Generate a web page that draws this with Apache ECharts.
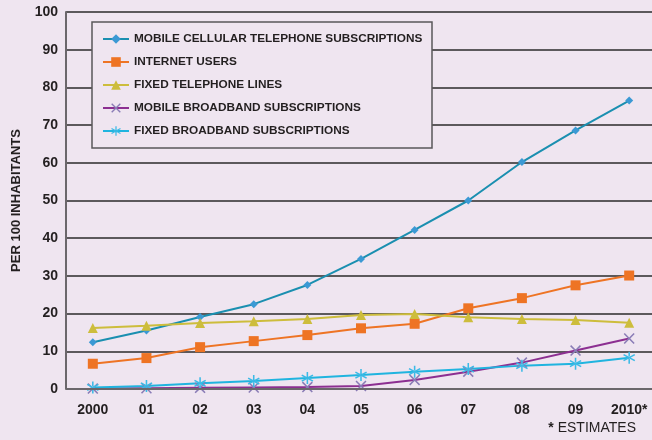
<!DOCTYPE html>
<html><head><meta charset="utf-8">
<script src="https://cdn.jsdelivr.net/npm/echarts@6/dist/echarts.min.js"></script>
<style>html,body{margin:0;padding:0;background:#EFE5F0}#c{width:652px;height:440px}</style>
</head><body><div id="c"></div>
<script>
const categories = ['2000','01','02','03','04','05','06','07','08','09','2010*'];
const yTicks = [0,10,20,30,40,50,60,70,80,90,100];
const mobileCellular = [12.4,15.5,19.1,22.5,27.6,34.5,42.2,50.0,60.2,68.6,76.5];
const internetUsers = [6.7,8.2,11.1,12.7,14.3,16.1,17.3,21.4,24.1,27.5,30.1];
const fixedTelephone = [16.2,16.8,17.5,18.0,18.6,19.6,19.9,19.0,18.6,18.3,17.6];
const mobileBroadband = [0.1,0.2,0.3,0.4,0.5,0.8,2.4,4.6,7.0,10.2,13.4];
const fixedBroadband = [0.4,0.8,1.5,2.1,2.9,3.7,4.6,5.3,6.2,6.7,8.3];
const seriesNames = ['MOBILE CELLULAR TELEPHONE SUBSCRIPTIONS','INTERNET USERS','FIXED TELEPHONE LINES','MOBILE BROADBAND SUBSCRIPTIONS','FIXED BROADBAND SUBSCRIPTIONS'];

const BG = '#EFE5F0';
const FONT = '"Liberation Sans", Arial, sans-serif';
const xPath = 'path://M0,1 L1,0 L5,4 L9,0 L10,1 L6,5 L10,9 L9,10 L5,6 L1,10 L0,9 L4,5 Z';
const starPath = 'path://M4.4,0 L5.6,0 L5.6,10 L4.4,10 Z M0.37,3.02 L9.03,8.02 L9.63,6.98 L0.97,1.98 Z M0.97,8.02 L9.63,3.02 L9.03,1.98 L0.37,6.98 Z';

function mk(name, data, lineColor, markColor, symbol, size) {
  return {
    name: name, type: 'line', data: data, symbol: symbol, symbolSize: size,
    lineStyle: {color: lineColor, width: 2},
    itemStyle: {color: markColor},
    emphasis: {disabled: true}, z: 5
  };
}

const chart = echarts.init(document.getElementById('c'), null, {renderer: 'canvas'});
chart.setOption({
  backgroundColor: BG,
  animation: false,
  textStyle: {fontFamily: FONT},
  grid: {left: 66, top: 12, width: 590, height: 377, containLabel: false, outerBoundsMode: 'none'},
  xAxis: {
    type: 'category', data: categories, boundaryGap: true,
    axisLine: {show: false}, axisTick: {show: false},
    axisLabel: {margin: 14, fontSize: 14, fontWeight: 'bold', color: '#231f20', fontFamily: FONT, interval: 0},
    splitLine: {show: false}
  },
  yAxis: {
    type: 'value', min: yTicks[0], max: yTicks[yTicks.length-1], interval: 10,
    name: 'PER 100 INHABITANTS', nameLocation: 'middle', nameRotate: 90, nameGap: 43,
    nameTextStyle: {fontSize: 13, fontWeight: 'bold', color: '#231f20', fontFamily: FONT},
    axisLine: {show: true, lineStyle: {color: '#6b676b', width: 2}},
    axisTick: {show: false},
    axisLabel: {margin: 8, fontSize: 14, fontWeight: 'bold', color: '#231f20', fontFamily: FONT},
    splitLine: {show: true, lineStyle: {color: '#2b2a2b', width: 1.5}}
  },
  legend: {
    orient: 'vertical', left: 102, top: 33, padding: 0,
    itemWidth: 26, itemHeight: 12, itemGap: 11,
    data: seriesNames,
    textStyle: {fontSize: 11.8, fontWeight: 'bold', color: '#231f20', fontFamily: FONT, lineHeight: 12},
    z: 10
  },
  graphic: [
    {type: 'rect', z: 8, shape: {x: 92, y: 22, width: 340, height: 126},
     style: {fill: BG, stroke: '#5a575a', lineWidth: 1.5}},
    {type: 'line', z: 9, shape: {x1: 66, y1: 389, x2: 652, y2: 389},
     style: {stroke: '#6b676b', lineWidth: 2}},
    {type: 'text', z: 9, right: 16, top: 421,
     style: {text: '{a|*}{b| ESTIMATES}', rich: {
       a: {fontSize: 14, fontWeight: 'bold', fill: '#231f20', fontFamily: FONT},
       b: {fontSize: 14, fill: '#231f20', fontFamily: FONT}}}}
  ],
  series: [
    mk(seriesNames[0], mobileCellular, '#1a8fb0', '#3b99d4', 'diamond', 8),
    mk(seriesNames[1], internetUsers, '#ee7424', '#ee7424', 'rect', 10),
    mk(seriesNames[2], fixedTelephone, '#cdbd3c', '#cdbd3c', 'triangle', 10),
    mk(seriesNames[3], mobileBroadband, '#8c2f91', '#8a7cb6', xPath, 11),
    mk(seriesNames[4], fixedBroadband, '#20b4df', '#3cbae6', starPath, 12)
  ]
});
</script></body></html>
